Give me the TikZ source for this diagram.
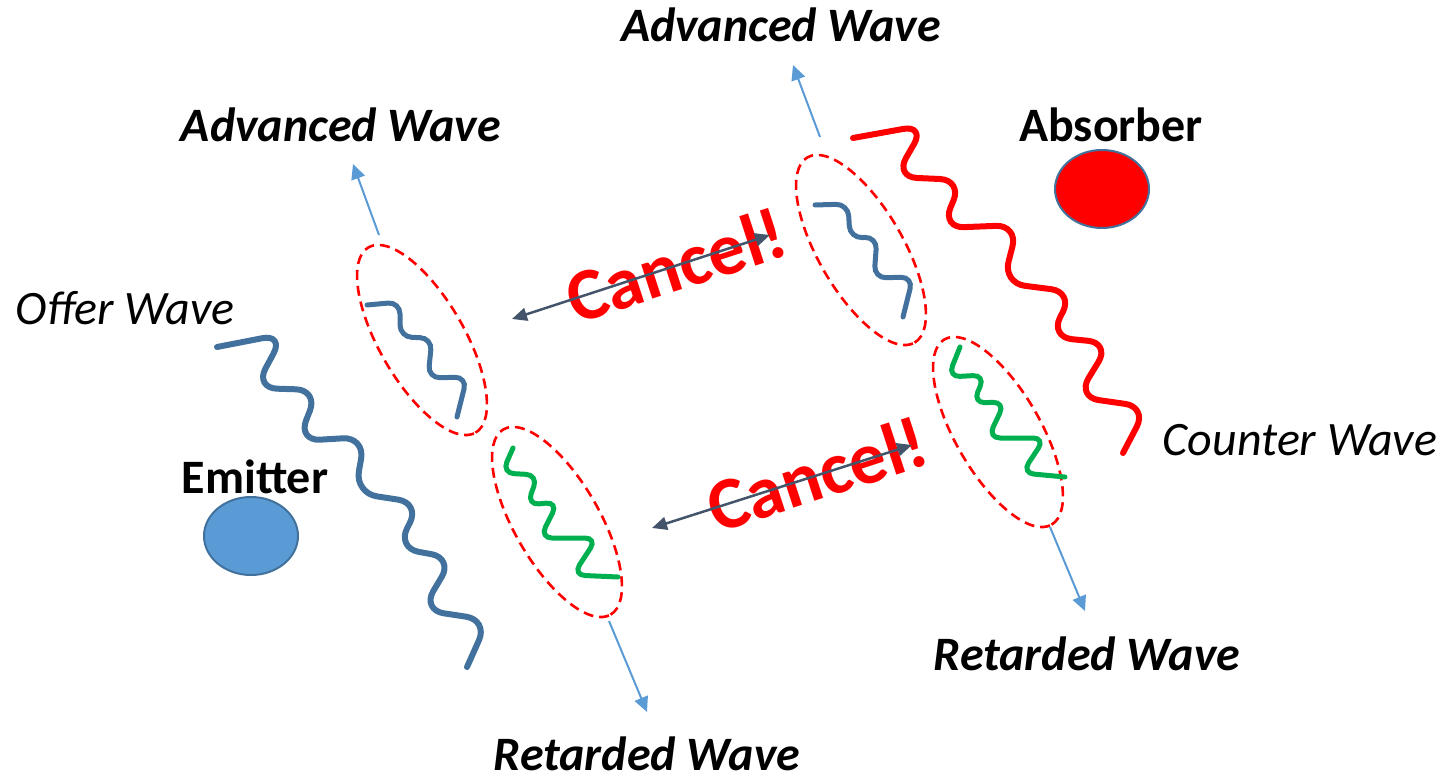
\documentclass[tikz,border=0pt]{standalone}
\usepackage{fontspec}
\setmainfont{Carlito}
\usetikzlibrary{shapes.geometric,arrows.meta}
\definecolor{wblue}{RGB}{65,113,156}
\definecolor{eblue}{RGB}{91,155,213}
\definecolor{wgreen}{RGB}{0,176,80}
\definecolor{agray}{RGB}{68,84,106}
\begin{document}
\begin{tikzpicture}[x=1pt,y=-1pt,
  dellipse/.style={ellipse, draw=red, line width=2.6pt, dash pattern=on 10pt off 6pt,
    minimum width=214pt, minimum height=85pt, inner sep=0pt, rotate=-60},
  body/.style={ellipse, draw=wblue, line width=2pt, minimum width=94pt, minimum height=78pt, inner sep=0pt},
  lbl/.style={font=\fontsize{48}{52}\selectfont, anchor=base, inner sep=0pt},
  cancel/.style={font=\fontsize{74}{80}\selectfont\bfseries, text=red, inner sep=0pt, rotate=18},
  bigwave/.style={line width=6pt, rounded corners=22pt, line cap=round},
  smallwave/.style={line width=5pt, rounded corners=12pt, line cap=round},
  thinarrow/.style={draw=eblue, line width=2pt, -{Triangle[length=15pt,width=14pt]}},
  cancelarrow/.style={draw=agray, line width=2.5pt, {Triangle[length=15pt,width=13pt]}-{Triangle[length=15pt,width=13pt]}}
]
\useasboundingbox (0,0) rectangle (1440,775);

% emitter and absorber
\node[body, fill=eblue] (emitter) at (251,536) {};
\node[body, fill=red] (absorber) at (1102,189) {};

% dashed ellipses
\node[dellipse] (e1) at (422,340) {};
\node[dellipse] (e2) at (557,522) {};
\node[dellipse] (e3) at (861,250) {};
\node[dellipse] (e4) at (998,432) {};

% big waves
\draw[bigwave, wblue] (217,347) -- (284,334) -- (255,388) -- (318,390) -- (298,441) -- (365,437)
  -- (355,493) -- (420,503) -- (397,548) -- (453,558) -- (422,610) -- (488,620) -- (467,667);
\draw[bigwave, red] (853,138) -- (925,125) -- (895,177) -- (962,180) -- (942,228) -- (1018,225)
  -- (1003,283) -- (1073,292) -- (1050,337) -- (1110,343) -- (1077,397) -- (1147,407) -- (1123,453);

% small waves
\draw[smallwave, wblue] (367,305) -- (400,302) -- (400,337) -- (432,338) -- (428,378) -- (467,377) -- (457,417);
\draw[smallwave, wblue] (815,205) -- (848,204) -- (850,238) -- (877,237) -- (874,278) -- (913,277) -- (903,317);
\draw[smallwave, wgreen] (513,448) -- (502,473) -- (538,475) -- (527,505) -- (558,502) -- (540,538)
  -- (597,538) -- (573,575) -- (618,577);
\draw[smallwave, wgreen] (960,347) -- (948,377) -- (985,375) -- (973,403) -- (1005,402) -- (988,438)
  -- (1045,438) -- (1022,473) -- (1065,477);

% thin arrows
\coordinate (a1s) at (379,235); \coordinate (a1e) at (353,164);
\coordinate (a2s) at (609,621); \coordinate (a2e) at (647,712);
\coordinate (a3s) at (820,137); \coordinate (a3e) at (793,65);
\coordinate (a4s) at (1050,527); \coordinate (a4e) at (1085,611);
\draw[thinarrow] (a1s) -- (a1e);
\draw[thinarrow] (a2s) -- (a2e);
\draw[thinarrow] (a3s) -- (a3e);
\draw[thinarrow] (a4s) -- (a4e);

% cancel texts and arrows
\node[cancel] (cancel1) at (676,265) {Cancel!};
\node[cancel] (cancel2) at (817,474) {Cancel!};
\coordinate (c1l) at (512,319); \coordinate (c1r) at (770,235);
\coordinate (c2l) at (652,528); \coordinate (c2r) at (912,445);
\draw[cancelarrow] (c1l) -- (c1r);
\draw[cancelarrow] (c2l) -- (c2r);

% labels
\node[lbl] (adv1) at (341,142) {\bfseries\itshape Advanced Wave};
\node[lbl] (adv2) at (781,42) {\bfseries\itshape Advanced Wave};
\node[lbl] (offer) at (125,325) {\itshape Offer Wave};
\node[lbl] (emitterlbl) at (255,493) {\bfseries Emitter};
\node[lbl] (absorberlbl) at (1111,142) {\bfseries Absorber};
\node[lbl] (counter) at (1300,455) {\itshape Counter Wave};
\node[lbl] (ret1) at (647,770) {\bfseries\itshape Retarded Wave};
\node[lbl] (ret2) at (1087,670) {\bfseries\itshape Retarded Wave};
\end{tikzpicture}
\end{document}
